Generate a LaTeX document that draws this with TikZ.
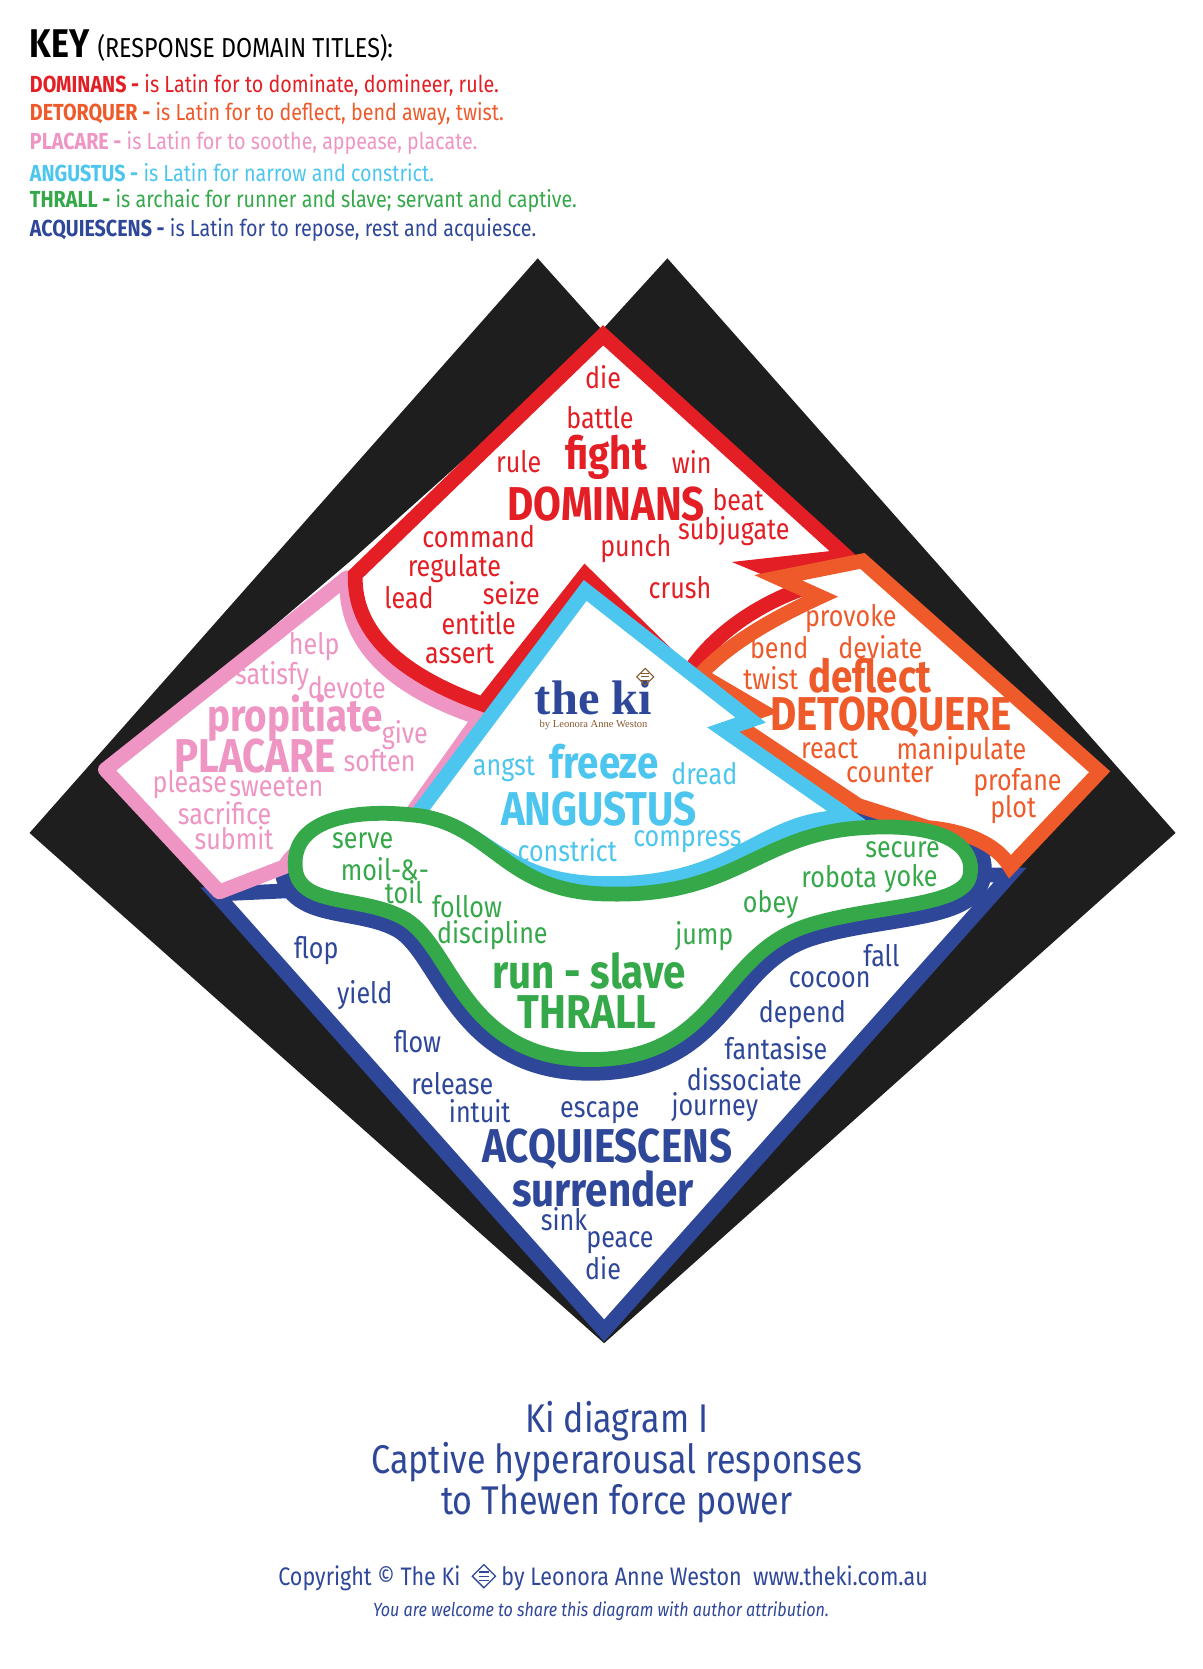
\documentclass[tikz,border=0pt]{standalone}
\usepackage{fontspec}
\usetikzlibrary{calc}
\setmainfont{Fira Sans}[FakeStretch=0.85]
\newfontfamily\logofont{Liberation Serif}
\definecolor{kred}{HTML}{E31E24}
\definecolor{korange}{HTML}{EE5A2A}
\definecolor{kpink}{HTML}{EE95C4}
\definecolor{kcyan}{HTML}{4CC6EE}
\definecolor{kgreen}{HTML}{35A84A}
\definecolor{kblue}{HTML}{2E4799}
\definecolor{kblack}{HTML}{1E1E1E}
\begin{document}
\begin{tikzpicture}[x=0.5pt,y=-0.5pt,line join=miter,
  band/.style={line width=7pt,fill=white},
  w/.style={font=\fontsize{14}{14}\selectfont,inner sep=0pt},
  big/.style={font=\fontsize{22.5}{22}\selectfont\bfseries,inner sep=0pt},
  bigl/.style={font=\fontsize{21.5}{22}\selectfont\bfseries,inner sep=0pt},
  keyl/.style={font=\fontsize{11}{11}\selectfont,anchor=west,inner sep=0pt},
  tl/.style={font=\fontsize{19}{19}\selectfont,text=kblue,inner sep=0pt}]
\useasboundingbox (0,0) rectangle (1141,1583);
% key
\node[anchor=west,inner sep=0pt] (key) at (28,43) {\fontsize{19}{19}\selectfont\bfseries KEY \fontseries{l}\fontsize{13}{13}\selectfont(RESPONSE DOMAIN TITLES):};
\node[keyl,text=kred] (k1) at (28,81) {\textbf{DOMINANS -} is Latin for to dominate, domineer, rule.};
\node[keyl,text=korange] (k2) at (28,108) {\textbf{DETORQUER -} is Latin for to deflect, bend away, twist.};
\node[keyl,text=kpink] (k3) at (28,136) {\textbf{PLACARE -} is Latin for to soothe, appease, placate.};
\node[keyl,text=kcyan] (k4) at (28,164) {\textbf{ANGUSTUS -} is Latin for narrow and constrict.};
\node[keyl,text=kgreen] (k5) at (28,191) {\textbf{THRALL -} is archaic for runner and slave; servant and captive.};
\node[keyl,text=kblue] (k6) at (28,218) {\textbf{ACQUIESCENS -} is Latin for to repose, rest and acquiesce.};
% black
\fill[kblack] (28,790) -- (510,245) -- (571,313) -- (633,245) -- (1115,790) -- (573,1274) -- cycle;
% white interior
\fill[white] (100,730) -- (335,530) -- (572,318) -- (803,528) -- (1043,732) -- (958,830) -- (573,1262) -- (205,848) -- cycle;
% blue diamond
\draw[band,draw=kblue] (205,848) -- (573,1262) -- (958,830) -- (600,830) -- cycle;
% blue band around green blob
\def\blob{(280,822) .. controls (277,775) and (340,766) .. (400,774) .. controls (470,786) and (480,848) .. (580,848) .. controls (700,850) and (720,790) .. (820,785) .. controls (900,780) and (925,805) .. (920,830) .. controls (915,862) and (820,858) .. (760,880) .. controls (680,910) and (680,1005) .. (560,1005) .. controls (440,1005) and (430,900) .. (385,872) .. controls (345,848) and (282,862) .. (280,822) -- cycle}
\draw[kblue,line width=20pt] \blob;
\fill[white] (380,800) -- (560,1000) -- (880,800) -- cycle;
% pink
\draw[band,draw=kpink,line join=round] (100,730) -- (329,548) .. controls (326,612) and (374,654) .. (455,681) -- (386,778) .. controls (340,775) and (285,795) .. (270,822) -- (208,846) -- cycle;
% red
\draw[band,draw=kred] (572,318) -- (803,528) -- (722,537) -- (768,556) .. controls (710,575) and (670,610) .. (652,640) -- (555,545) -- (458,668) .. controls (380,640) and (335,600) .. (337,545) -- cycle;
% orange
\draw[band,draw=korange] (818,532) -- (1043,732) -- (958,822) .. controls (945,800) and (915,788) .. (880,785) -- (814,764) -- (694,684) -- (722,674) -- (664,640) .. controls (690,612) and (730,588) .. (778,566) -- (738,548) -- cycle;
% cyan
\draw[band,draw=kcyan] (555,560) -- (712,683) -- (686,692) -- (805,775) .. controls (720,775) and (700,838) .. (580,838) .. controls (470,840) and (460,776) .. (393,776) -- cycle;
% green blob
\draw[band,draw=kgreen] \blob;
% logo
\node[inner sep=0pt,text=kblue] (logo) at (563,662) {\logofont\bfseries\fontsize{23}{23}\selectfont the ki};
\node[inner sep=0pt,text=brown!70!black] (by) at (563,688) {\logofont\fontsize{5}{5}\selectfont by Leonora Anne Weston};
\draw[brown!70!black,line width=0.5pt] (612,634) -- (620,642) -- (612,650) -- (604,642) -- cycle;
\foreach \i in {-3,0,3} \draw[brown!70!black,line width=0.4pt] (608,642+\i) -- (616,642+\i);
% red words
\begin{scope}[every node/.append style={text=kred}]
\node[w] (r1) at (572,358) {die};
\node[w] (r2) at (569,396) {battle};
\node[w] (r3) at (492,438) {rule};
\node[bigl] (r4) at (575,434) {fight};
\node[w] (r5) at (656,438) {win};
\node[big] (r6) at (575,478) {DOMINANS};
\node[w] (r7) at (700,474) {beat};
\node[w] (r8) at (696,504) {subjugate};
\node[w] (r9) at (454,509) {command};
\node[w] (r10) at (603,520) {punch};
\node[w] (r11) at (431,539) {regulate};
\node[w] (r12) at (645,557) {crush};
\node[w] (r13) at (388,567) {lead};
\node[w] (r14) at (485,563) {seize};
\node[w] (r15) at (454,591) {entitle};
\node[w] (r16) at (436,620) {assert};
\end{scope}
\begin{scope}[every node/.append style={text=korange}]
\node[w] (o1) at (807,587) {provoke};
\node[w] (o2) at (739,614) {bend};
\node[w] (o3) at (835,614) {deviate};
\node[w] (o4) at (731,643) {twist};
\node[bigl] (o5) at (825,641) {deflect};
\node[big] (o6) at (845,680) {DETORQUERE};
\node[w] (o7) at (787,710) {react};
\node[w] (o8) at (912,712) {manipulate};
\node[w] (o9) at (844,733) {counter};
\node[w] (o10) at (965,742) {profane};
\node[w] (o11) at (961,768) {plot};
\end{scope}
\begin{scope}[every node/.append style={text=kpink}]
\node[w] (p1) at (298,613) {help};
\node[w] (p2) at (258,641) {satisfy};
\node[w] (p3) at (329,652) {devote};
\node[bigl] (p4) at (280,681) {propitiate};
\node[w] (p5) at (384,697) {give};
\node[big] (p6) at (242,717) {PLACARE};
\node[w] (p7) at (360,721) {soften};
\node[w] (p8) at (180,744) {please};
\node[w] (p9) at (262,746) {sweeten};
\node[w] (p10) at (213,771) {sacrifice};
\node[w] (p11) at (222,795) {submit};
\end{scope}
\begin{scope}[every node/.append style={text=kcyan}]
\node[w] (c1) at (478,729) {angst};
\node[bigl] (c2) at (573,722) {freeze};
\node[w] (c3) at (668,734) {dread};
\node[big] (c4) at (568,767) {ANGUSTUS};
\node[w] (c5) at (538,806) {constrict};
\node[w] (c6) at (652,798) {compress};
\end{scope}
\begin{scope}[every node/.append style={text=kgreen}]
\node[w] (g1) at (344,797) {serve};
\node[w] (g2) at (365,824) {moil-\&-};
\node[w] (g3) at (383,846) {toil};
\node[w] (g4) at (443,860) {follow};
\node[w] (g5) at (467,887) {discipline};
\node[w] (g6) at (731,858) {obey};
\node[w] (g7) at (668,888) {jump};
\node[w] (g8) at (856,806) {secure};
\node[w] (g9) at (796,831) {robota};
\node[w] (g10) at (864,833) {yoke};
\node[big] (g11) at (559,921) {run - slave};
\node[big] (g12) at (557,960) {THRALL};
\end{scope}
\begin{scope}[every node/.append style={text=kblue}]
\node[w] (b1) at (300,902) {flop};
\node[w] (b2) at (346,944) {yield};
\node[w] (b3) at (836,906) {fall};
\node[w] (b4) at (787,929) {cocoon};
\node[w] (b5) at (396,988) {flow};
\node[w] (b6) at (761,962) {depend};
\node[w] (b7) at (736,994) {fantasise};
\node[w] (b8) at (429,1028) {release};
\node[w] (b9) at (706,1024) {dissociate};
\node[w] (b10) at (455,1054) {intuit};
\node[w] (b11) at (569,1055) {escape};
\node[w] (b12) at (678,1050) {journey};
\node[big] (b13) at (576,1090) {ACQUIESCENS};
\node[big] (b14) at (572,1128) {surrender};
\node[w] (b15) at (535,1156) {sink};
\node[w] (b16) at (588,1179) {peace};
\node[w] (b17) at (572,1203) {die};
\end{scope}
% titles
\node[tl] (t1) at (585,1348) {Ki diagram I};
\node[tl] (t2) at (585,1387) {Captive hyperarousal responses};
\node[tl] (t3) at (585,1426) {to Thewen force power};
\node[inner sep=0pt,text=kblue,font=\fontsize{12}{12}\selectfont] (cp) at (572,1497) {Copyright © The Ki \hspace{14pt} by Leonora Anne Weston\ \ www.theki.com.au};
\coordinate (ic) at (459,1495);
\draw[kblue,line width=0.6pt] ($(ic)+(0,-11)$) -- ($(ic)+(11,0)$) -- ($(ic)+(0,11)$) -- ($(ic)+(-11,0)$) -- cycle;
\foreach \i in {-4,0,4} \draw[kblue,line width=0.5pt] ($(ic)+(-5,\i)$) -- ($(ic)+(5,\i)$);
\node[inner sep=0pt,text=kblue,font=\fontsize{9}{9}\selectfont\itshape] (sh) at (570,1528) {You are welcome to share this diagram with author attribution.};
\end{tikzpicture}
\end{document}
